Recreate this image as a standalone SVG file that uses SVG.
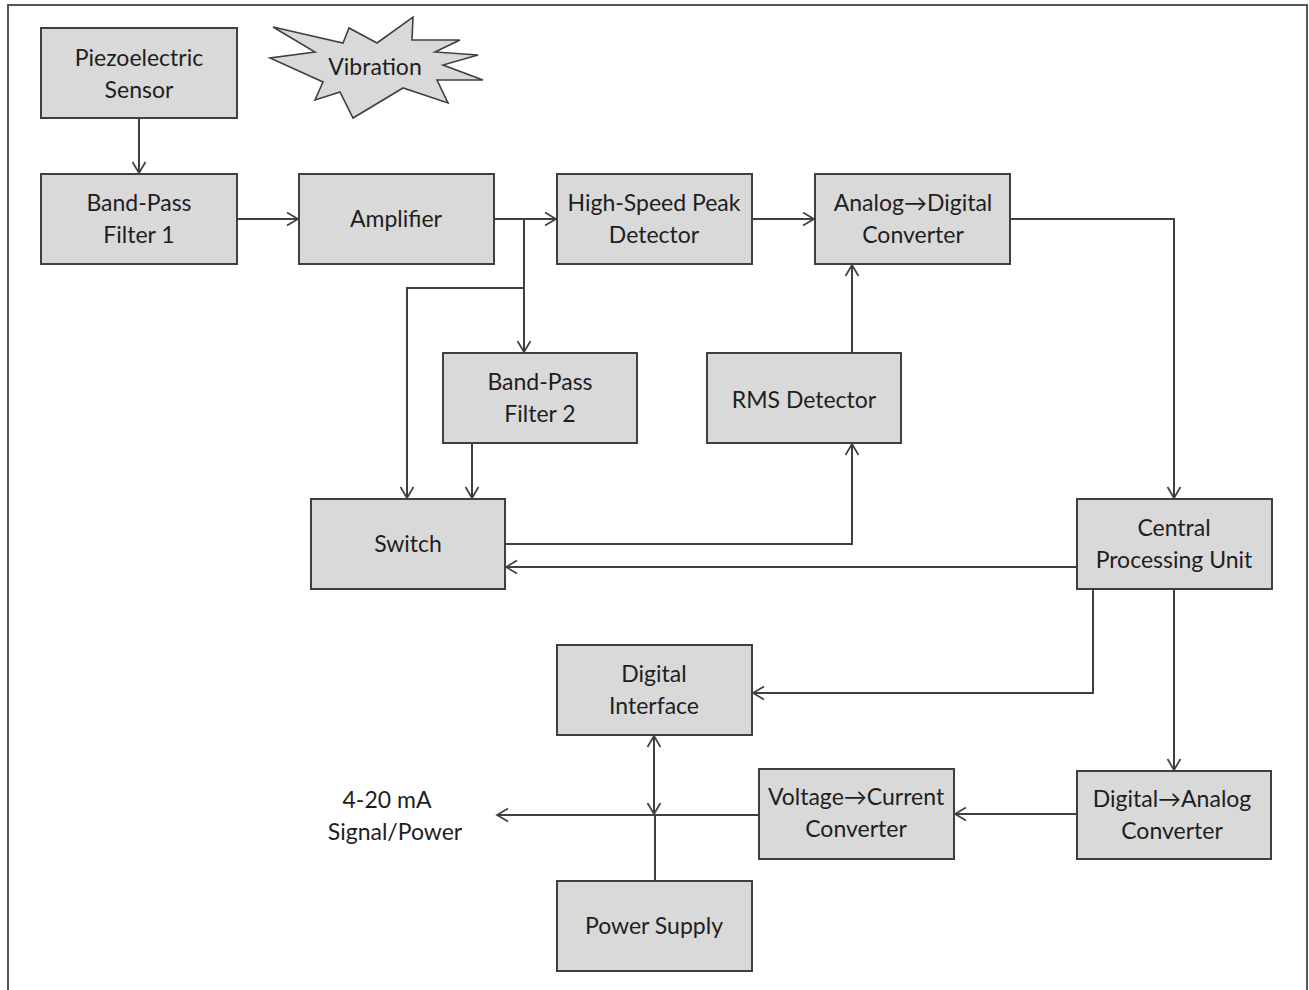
<svg xmlns="http://www.w3.org/2000/svg" width="1309" height="990" viewBox="0 0 1309 990">
<style>
.box{fill:#d9d9d9;stroke:#404040;stroke-width:2}
.t{font-family:Lato,"Open Sans","Liberation Sans",sans-serif;font-size:23px;fill:#1e1e1e;text-anchor:middle}
.c{fill:none;stroke:#404040;stroke-width:2}
</style>
<defs>
<marker id="arr" markerUnits="userSpaceOnUse" markerWidth="14" markerHeight="16" refX="12" refY="8" orient="auto-start-reverse">
<path d="M1,1.5 L12,8 L1,14.5" fill="none" stroke="#404040" stroke-width="1.7"/>
</marker>
</defs>
<rect x="0" y="0" width="1309" height="990" fill="#ffffff"/>
<rect x="8" y="5" width="1299" height="1000" fill="none" stroke="#555555" stroke-width="2"/>

<g id="connectors">
<path class="c" d="M139,118 V173" marker-end="url(#arr)"/>
<path class="c" d="M237,219 H298" marker-end="url(#arr)"/>
<path class="c" d="M494,219 H556" marker-end="url(#arr)"/>
<path class="c" d="M524,219 V352" marker-end="url(#arr)"/>
<path class="c" d="M524,288 H407 V498" marker-end="url(#arr)"/>
<path class="c" d="M472,443 V498" marker-end="url(#arr)"/>
<path class="c" d="M752,219 H814" marker-end="url(#arr)"/>
<path class="c" d="M852,353 V265" marker-end="url(#arr)"/>
<path class="c" d="M505,544 H852 V444" marker-end="url(#arr)"/>
<path class="c" d="M1010,219 H1174 V498" marker-end="url(#arr)"/>
<path class="c" d="M1077,567 H506" marker-end="url(#arr)"/>
<path class="c" d="M1093,589 V693 H753" marker-end="url(#arr)"/>
<path class="c" d="M1174,589 V770" marker-end="url(#arr)"/>
<path class="c" d="M1077,814 H955" marker-end="url(#arr)"/>
<path class="c" d="M759,815 H497" marker-end="url(#arr)"/>
<path class="c" d="M654,736 V814" marker-start="url(#arr)" marker-end="url(#arr)"/>
<path class="c" d="M655,881 V815"/>
</g>

<g id="vibration">
<polygon points="273,27 343,43 349,28 377,43 413,17 412,40 460,40 435,52 478,55 443,65 483,80 437,80 448,103 403,88 353,118 340,92 315,100 323,82 270,58 315,52" fill="#d9d9d9" stroke="#404040" stroke-width="1.6" stroke-linejoin="miter"/>
<text class="t" x="375" y="75">Vibration</text>
</g>

<g id="piezo">
<rect class="box" x="41" y="28" width="196" height="90"/>
<text class="t" x="139" y="66">Piezoelectric</text>
<text class="t" x="139" y="98">Sensor</text>
</g>
<g id="bpf1">
<rect class="box" x="41" y="174" width="196" height="90"/>
<text class="t" x="139" y="211">Band-Pass</text>
<text class="t" x="139" y="243">Filter 1</text>
</g>
<g id="amplifier">
<rect class="box" x="299" y="174" width="195" height="90"/>
<text class="t" x="396" y="227">Amplifier</text>
</g>
<g id="hspd">
<rect class="box" x="557" y="174" width="195" height="90"/>
<text class="t" x="654" y="211">High-Speed Peak</text>
<text class="t" x="654" y="243">Detector</text>
</g>
<g id="adc">
<rect class="box" x="815" y="174" width="195" height="90"/>
<text class="t" x="913" y="211">Analog→Digital</text>
<text class="t" x="913" y="243">Converter</text>
</g>
<g id="bpf2">
<rect class="box" x="443" y="353" width="194" height="90"/>
<text class="t" x="540" y="390">Band-Pass</text>
<text class="t" x="540" y="422">Filter 2</text>
</g>
<g id="rms">
<rect class="box" x="707" y="353" width="194" height="90"/>
<text class="t" x="804" y="408">RMS Detector</text>
</g>
<g id="switch">
<rect class="box" x="311" y="499" width="194" height="90"/>
<text class="t" x="408" y="552">Switch</text>
</g>
<g id="cpu">
<rect class="box" x="1077" y="499" width="195" height="90"/>
<text class="t" x="1174" y="536">Central</text>
<text class="t" x="1174" y="568">Processing Unit</text>
</g>
<g id="digital-interface">
<rect class="box" x="557" y="645" width="195" height="90"/>
<text class="t" x="654" y="682">Digital</text>
<text class="t" x="654" y="714">Interface</text>
</g>
<g id="vi-converter">
<rect class="box" x="759" y="769" width="195" height="90"/>
<text class="t" x="856" y="805">Voltage→Current</text>
<text class="t" x="856" y="837">Converter</text>
</g>
<g id="dac">
<rect class="box" x="1077" y="771" width="194" height="88"/>
<text class="t" x="1172" y="807">Digital→Analog</text>
<text class="t" x="1172" y="839">Converter</text>
</g>
<g id="power-supply">
<rect class="box" x="557" y="881" width="195" height="90"/>
<text class="t" x="654" y="934">Power Supply</text>
</g>
<g id="output-label">
<text class="t" x="387" y="808">4-20 mA</text>
<text class="t" x="395" y="840">Signal/Power</text>
</g>
</svg>
